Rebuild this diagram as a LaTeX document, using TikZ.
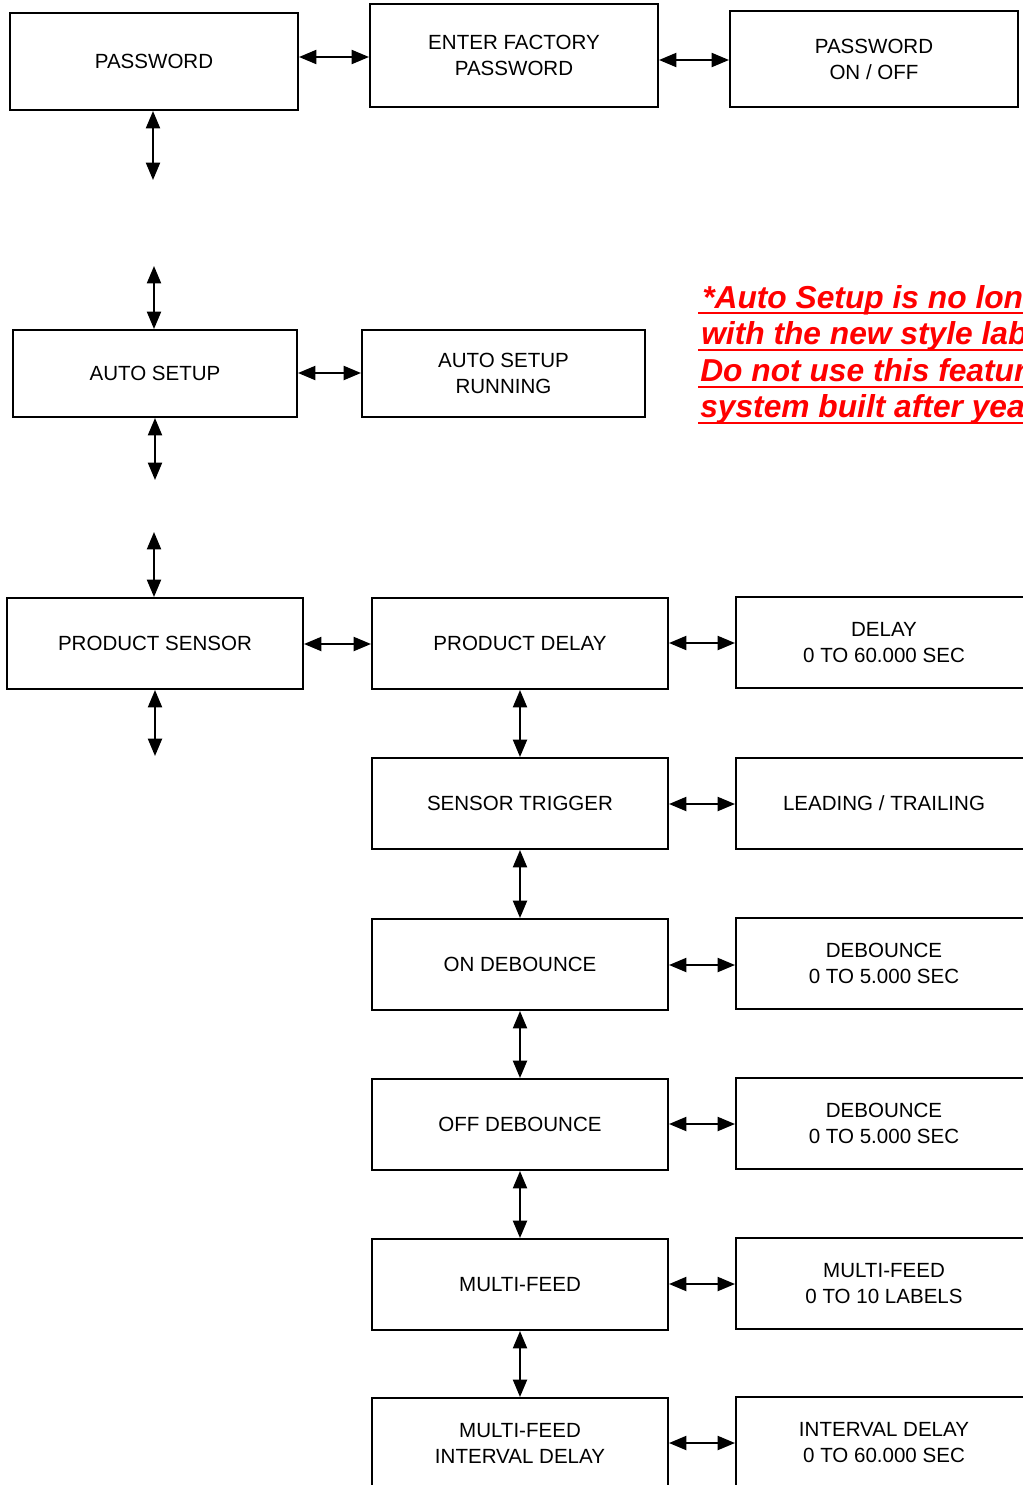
\documentclass[tikz,border=0pt]{standalone}
\usepackage{fontspec}
\setmainfont{Liberation Sans}
\usetikzlibrary{arrows.meta}
\begin{document}
\begin{tikzpicture}[x=0.75pt,y=-0.75pt,
 box/.style={draw, line width=1.5pt, align=center, font=\fontsize{15.4pt}{19.5pt}\selectfont, inner sep=0pt},
 arr/.style={line width=1.5pt, {Triangle[length=13pt,width=10.5pt]}-{Triangle[length=13pt,width=10.5pt]}},
 note/.style={anchor=base west, text=red, font=\fontsize{23.8pt}{27pt}\selectfont\bfseries\itshape, inner sep=0pt},
 ul/.style={red, line width=2pt}]
\useasboundingbox (0,0) rectangle (1023,1485);
\clip (0,0) rectangle (1023,1485);
\fill[white] (0,0) rectangle (1023,1485);

% top row
\node[box, minimum width=216pt, minimum height=72.75pt] (pw) at (154,61.5) {PASSWORD};
\node[box, minimum width=216pt, minimum height=77.25pt] (efp) at (514,55.5) {ENTER FACTORY\\PASSWORD};
\node[box, minimum width=216pt, minimum height=72pt] (pwo) at (874,59) {PASSWORD\\ON / OFF};
\draw[arr] (pw.east |- 0,57) -- (efp.west |- 0,57);
\draw[arr] (efp.east |- 0,60) -- (pwo.west |- 0,60);

% auto setup
\node[box, minimum width=213pt, minimum height=65.25pt] (as) at (155,373.5) {AUTO SETUP};
\node[box, minimum width=212.25pt, minimum height=65.25pt] (asr) at (503.5,373.5) {AUTO SETUP\\RUNNING};
\draw[arr] (as.east |- 0,373) -- (asr.west |- 0,373);

\coordinate (pwd) at (153,180);
\coordinate (asu) at (154,266);
\coordinate (asd) at (155,480);
\coordinate (psu) at (154,532);
\coordinate (psd) at (155,756);
\draw[arr] (pw.south -| pwd) -- (pwd);
\draw[arr] (asu) -- (as.north -| asu);
\draw[arr] (as.south -| asd) -- (asd);

% product sensor row
\node[box, minimum width=222pt, minimum height=68.25pt] (ps) at (155,643.5) {PRODUCT SENSOR};
\draw[arr] (psu) -- (ps.north -| psu);
\draw[arr] (ps.south -| psd) -- (psd);
\node[box, minimum width=222pt, minimum height=68.25pt] (pd) at (520,643.5) {PRODUCT DELAY};
\node[box, minimum width=222pt, minimum height=68.25pt] (dl) at (884,642.5) {DELAY\\0 TO 60.000 SEC};
\draw[arr] (ps.east |- 0,644) -- (pd.west |- 0,644);
\draw[arr] (pd.east |- 0,643) -- (dl.west |- 0,643);

% middle column
\node[box, minimum width=222pt, minimum height=68.25pt] (st) at (520,803.5) {SENSOR TRIGGER};
\node[box, minimum width=222pt, minimum height=68.25pt] (lt) at (884,803.5) {LEADING / TRAILING};
\draw[arr] (st.east |- 0,804) -- (lt.west |- 0,804);

\node[box, minimum width=222pt, minimum height=68.25pt] (ond) at (520,964.5) {ON DEBOUNCE};
\node[box, minimum width=222pt, minimum height=68.25pt] (db1) at (884,963.5) {DEBOUNCE\\0 TO 5.000 SEC};
\draw[arr] (ond.east |- 0,965) -- (db1.west |- 0,965);

\node[box, minimum width=222pt, minimum height=68.25pt] (ofd) at (520,1124.5) {OFF DEBOUNCE};
\node[box, minimum width=222pt, minimum height=68.25pt] (db2) at (884,1123.5) {DEBOUNCE\\0 TO 5.000 SEC};
\draw[arr] (ofd.east |- 0,1124) -- (db2.west |- 0,1124);

\node[box, minimum width=222pt, minimum height=68.25pt] (mf) at (520,1284.5) {MULTI-FEED};
\node[box, minimum width=222pt, minimum height=68.25pt] (mfl) at (884,1283.5) {MULTI-FEED\\0 TO 10 LABELS};
\draw[arr] (mf.east |- 0,1284) -- (mfl.west |- 0,1284);

\node[box, minimum width=222pt, minimum height=68.25pt] (mfi) at (520,1443.5) {MULTI-FEED\\INTERVAL DELAY};
\node[box, minimum width=222pt, minimum height=68.25pt] (idl) at (884,1442.5) {INTERVAL DELAY\\0 TO 60.000 SEC};
\draw[arr] (mfi.east |- 0,1443) -- (idl.west |- 0,1443);

\draw[arr] (pd) -- (st);
\draw[arr] (st) -- (ond);
\draw[arr] (ond) -- (ofd);
\draw[arr] (ofd) -- (mf);
\draw[arr] (mf) -- (mfi);

% red note
\node[note] (n1) at (702,308) {*Auto Setup is no lon};
\node[note] (n2) at (701,344) {with the new style lab};
\node[note] (n3) at (700,381) {Do not use this featur};
\node[note] (n4) at (700,417) {system built after yea};
\draw[ul] (698,313) -- (1030,313);
\draw[ul] (698,350) -- (1030,350);
\draw[ul] (698,387) -- (1030,387);
\draw[ul] (698,423) -- (1030,423);
\end{tikzpicture}
\end{document}
